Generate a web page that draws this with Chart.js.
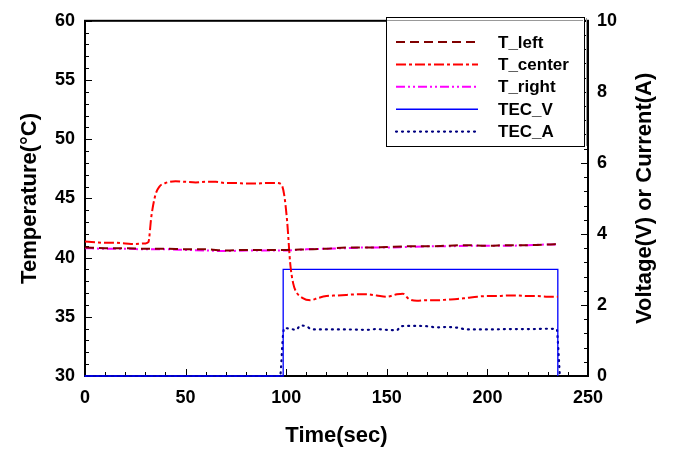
<!DOCTYPE html>
<html>
<head>
<meta charset="utf-8">
<script src="https://cdn.jsdelivr.net/npm/chart.js@4.4.0/dist/chart.umd.min.js"></script>
<style>
  html, body { margin: 0; padding: 0; background: #fff; }
</style>
</head>
<body>
<canvas id="tecChart" width="681" height="451"></canvas>
<script>
// temperature traces (deg C) and TEC drive (V, A) against time in seconds
const centerTime = [0, 5, 10, 15, 20, 25, 30, 31.5, 33, 35, 37, 40, 45, 50, 55, 60, 65, 70, 75, 80, 85, 90, 95, 97.5,
  99, 100.5, 102, 103.5, 105, 108, 112, 116, 120, 125, 130, 135, 140, 145, 150, 155, 158, 161, 165, 170, 175, 180,
  185, 190, 195, 200, 205, 210, 215, 220, 225, 230, 235];
const tCenter = [41.35, 41.3, 41.25, 41.25, 41.2, 41.15, 41.2, 41.3, 43.5, 45.3, 46.0, 46.3, 46.45, 46.4, 46.35, 46.4,
  46.4, 46.3, 46.3, 46.25, 46.25, 46.3, 46.3, 46.2,
  45.3, 43.0, 39.5, 37.8, 37.1, 36.6, 36.4, 36.6, 36.75, 36.8, 36.85, 36.9, 36.9, 36.8, 36.7, 36.9, 36.95, 36.5,
  36.35, 36.4, 36.4, 36.45, 36.5, 36.6, 36.7, 36.75, 36.75, 36.8, 36.8, 36.75, 36.75, 36.7, 36.7];

const sideTime = [0, 10, 20, 30, 40, 50, 60, 70, 80, 90, 100, 110, 120, 130, 140, 150, 160, 170, 180, 190, 200, 210, 220, 230, 235];
const tLeft = [40.85, 40.8, 40.8, 40.75, 40.75, 40.7, 40.7, 40.6, 40.65, 40.65, 40.65, 40.7, 40.75, 40.85, 40.85,
  40.9, 40.95, 40.95, 41.0, 41.05, 41.0, 41.05, 41.05, 41.1, 41.15];
const tRight = [40.8, 40.75, 40.75, 40.7, 40.7, 40.65, 40.6, 40.55, 40.6, 40.6, 40.6, 40.7, 40.75, 40.8, 40.85,
  40.85, 40.9, 40.95, 40.95, 41.0, 41.0, 41.0, 41.05, 41.1, 41.1];

const voltTime = [0, 98.5, 98.5, 235, 235];
const tecV = [0, 0, 3, 3, 0];

const ampTime = [0, 97, 97.5, 98, 98.5, 99, 102, 105, 107, 110, 113, 120, 130, 140, 145, 150, 155, 157, 160, 165, 170,
  175, 180, 185, 190, 200, 210, 220, 230, 234.5, 235, 235.5, 236];
const tecA = [0, 0, 0.3, 0.8, 1.2, 1.35, 1.33, 1.3, 1.42, 1.4, 1.31, 1.31, 1.31, 1.3, 1.32, 1.3, 1.29, 1.4, 1.41, 1.41,
  1.4, 1.37, 1.38, 1.36, 1.31, 1.31, 1.32, 1.32, 1.33, 1.32, 1.0, 0.5, 0];

const timeTicks = [0, 50, 100, 150, 200, 250];
const tempTicks = [30, 35, 40, 45, 50, 55, 60];
const powerTicks = [0, 2, 4, 6, 8, 10];

const FONT = 'Arial, "Liberation Sans", sans-serif';

function pairs(xs, ys) {
  return xs.map((x, i) => ({ x: x, y: ys[i] }));
}

// frame plus inward major/minor tick marks
const frameTicks = {
  id: 'frameTicks',
  beforeDatasetsDraw(chart) {
    const { ctx, chartArea: a, scales } = chart;
    ctx.save();
    ctx.strokeStyle = '#000';
    ctx.lineWidth = 1;
    ctx.beginPath();
    const sx = scales.x;
    for (let v = sx.min; v <= sx.max + 0.001; v += 10) {
      const px = Math.round(sx.getPixelForValue(v)) + 0.5;
      const len = timeTicks.includes(v) ? 7 : 4;
      ctx.moveTo(px, a.bottom);
      ctx.lineTo(px, a.bottom - len);
    }
    const sy = scales.y;
    for (let v = sy.min; v <= sy.max + 0.001; v += 1) {
      const py = Math.round(sy.getPixelForValue(v)) + 0.5;
      const len = tempTicks.includes(v) ? 7 : 4;
      ctx.moveTo(a.left, py);
      ctx.lineTo(a.left + len, py);
    }
    const sy1 = scales.y1;
    for (let k = 0; k <= 25; k++) {
      const v = k * 0.4;
      const py = Math.round(sy1.getPixelForValue(v)) + 0.5;
      const len = k % 5 === 0 ? 7 : 4;
      ctx.moveTo(a.right, py);
      ctx.lineTo(a.right - len, py);
    }
    ctx.stroke();
    ctx.lineWidth = 2;
    ctx.strokeRect(a.left, a.top, a.right - a.left, a.bottom - a.top);
    ctx.restore();
  },
  afterDraw(chart) {
    const { ctx, chartArea: a } = chart;
    // right axis title, reading bottom to top
    ctx.save();
    ctx.translate(645, (a.top + a.bottom) / 2);
    ctx.rotate(-Math.PI / 2);
    ctx.font = 'bold 22px ' + FONT;
    ctx.fillStyle = '#000';
    ctx.textAlign = 'center';
    ctx.textBaseline = 'middle';
    ctx.fillText(chart.options.scales.y1.title.text, 0, 0);
    ctx.restore();

    // legend box in the upper right corner
    const box = { x: 386, y: 17, w: 198, h: 129 };
    ctx.save();
    ctx.fillStyle = '#fff';
    ctx.fillRect(box.x, box.y, box.w, box.h);
    ctx.strokeStyle = '#999';
    ctx.lineWidth = 1;
    ctx.beginPath();
    ctx.moveTo(box.x + 1, box.y + 3.5);
    ctx.lineTo(box.x + box.w - 1, box.y + 3.5);
    ctx.moveTo(box.x + box.w + 2.5, box.y + 1);
    ctx.lineTo(box.x + box.w + 2.5, box.y + box.h);
    ctx.stroke();
    ctx.strokeStyle = '#000';
    ctx.strokeRect(box.x + 0.5, box.y + 0.5, box.w, box.h);
    ctx.font = 'bold 17px ' + FONT;
    ctx.textBaseline = 'middle';
    chart.data.datasets.forEach((ds, i) => {
      const y = 42 + i * 22.4;
      ctx.beginPath();
      ctx.strokeStyle = ds.borderColor;
      ctx.lineWidth = Math.max(ds.borderWidth, 1.5);
      ctx.lineCap = ds.borderCapStyle || 'butt';
      ctx.setLineDash(ds.borderDash || []);
      ctx.moveTo(396, y);
      ctx.lineTo(478, y);
      ctx.stroke();
      ctx.setLineDash([]);
      ctx.fillStyle = '#000';
      ctx.fillText(ds.label, 498, y + 1);
    });
    ctx.restore();
  }
};

new Chart(document.getElementById('tecChart'), {
  type: 'line',
  data: {
    datasets: [
      { label: 'T_left', data: pairs(sideTime, tLeft), borderColor: '#800000', borderWidth: 2,
        borderDash: [9, 5], yAxisID: 'y', cubicInterpolationMode: 'monotone' },
      { label: 'T_center', data: pairs(centerTime, tCenter), borderColor: '#ff0000', borderWidth: 2,
        borderDash: [10, 3, 3, 3], yAxisID: 'y', cubicInterpolationMode: 'monotone' },
      { label: 'T_right', data: pairs(sideTime, tRight), borderColor: '#ff00ff', borderWidth: 2,
        borderDash: [9, 3, 2, 3, 2, 3], yAxisID: 'y', cubicInterpolationMode: 'monotone' },
      { label: 'TEC_V', data: pairs(voltTime, tecV), borderColor: '#0000ff', borderWidth: 1.3,
        yAxisID: 'y1', tension: 0, clip: false },
      { label: 'TEC_A', data: pairs(ampTime, tecA), borderColor: '#000080', borderWidth: 2.2,
        borderDash: [1, 5], borderCapStyle: 'round', yAxisID: 'y1', cubicInterpolationMode: 'monotone', clip: false }
    ]
  },
  options: {
    responsive: false,
    animation: false,
    layout: { padding: { top: 16, left: 0, right: 0, bottom: 0 } },
    elements: { point: { radius: 0 } },
    plugins: { legend: { display: false }, tooltip: { enabled: false } },
    scales: {
      x: {
        type: 'linear', min: 0, max: 250,
        afterFit: (s) => { s.height = 75; },
        afterBuildTicks: (s) => { s.ticks = timeTicks.map(v => ({ value: v })); },
        grid: { display: false, drawTicks: false },
        border: { display: false },
        ticks: { color: '#000', padding: 11, font: { family: FONT, size: 18, weight: 'bold' } },
        title: { display: true, text: 'Time(sec)', color: '#000', padding: { top: 0, bottom: 2 },
          font: { family: FONT, size: 22, weight: 'bold' } }
      },
      y: {
        position: 'left', min: 30, max: 60,
        afterFit: (s) => { s.width = 85; },
        afterBuildTicks: (s) => { s.ticks = tempTicks.map(v => ({ value: v })); },
        grid: { display: false, drawTicks: false },
        border: { display: false },
        ticks: { color: '#000', padding: 10, font: { family: FONT, size: 18, weight: 'bold' } },
        title: { display: true, text: 'Temperature(°C)', color: '#000', padding: { top: 17, bottom: 0 },
          font: { family: FONT, size: 22, weight: 'bold' } }
      },
      y1: {
        position: 'right', min: 0, max: 10,
        afterFit: (s) => { s.width = 93; },
        afterBuildTicks: (s) => { s.ticks = powerTicks.map(v => ({ value: v })); },
        grid: { display: false, drawTicks: false },
        border: { display: false },
        ticks: { color: '#000', padding: 9, font: { family: FONT, size: 18, weight: 'bold' } },
        title: { display: false, text: 'Voltage(V) or Current(A)' }
      }
    }
  },
  plugins: [frameTicks]
});
</script>
</body>
</html>
